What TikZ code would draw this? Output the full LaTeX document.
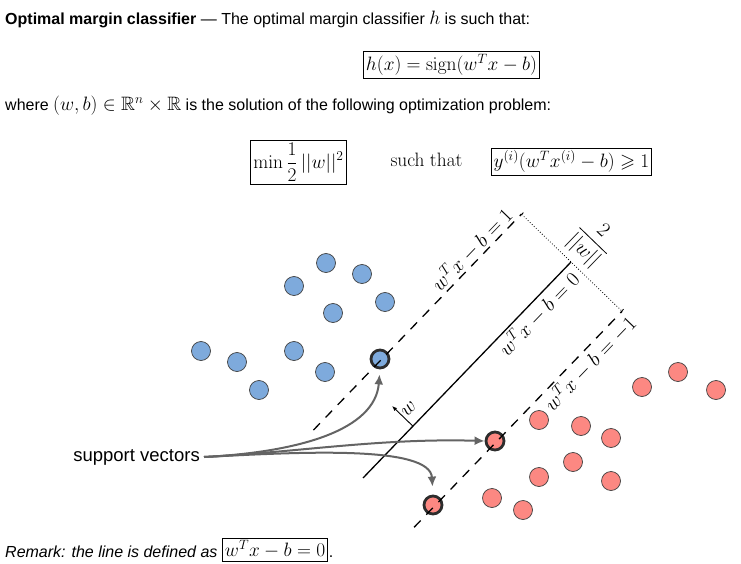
\RequirePackage{fix-cm}
\documentclass[tikz,border=0pt]{standalone}
\usepackage{amsmath,amssymb}
\usepackage[no-math]{fontspec}
\setmainfont{Liberation Sans}
\usetikzlibrary{arrows.meta,calc}

\definecolor{bluept}{RGB}{126,170,220}
\definecolor{redpt}{RGB}{252,136,130}
\definecolor{svgray}{RGB}{100,100,100}
\definecolor{ring}{RGB}{45,45,45}

\newcommand{\mth}[1]{{\fontsize{19.36}{23}\selectfont$#1$}}

\begin{document}
\begin{tikzpicture}[x=1pt,y=-1pt,
  txt/.style={inner sep=0pt, font=\fontsize{16}{19}\selectfont},
  mbox/.style={draw, line width=0.9pt, inner sep=2.5pt, font=\fontsize{19.36}{23}\selectfont},
  bpt/.style={circle, draw=black!75, line width=0.7pt, fill=bluept, minimum size=19pt, inner sep=0pt},
  rpt/.style={circle, draw=black!75, line width=0.7pt, fill=redpt, minimum size=19pt, inner sep=0pt},
  svb/.style={bpt, draw=ring, line width=2.8pt, minimum size=18pt},
  svr/.style={rpt, draw=ring, line width=2.8pt, minimum size=18pt},
  hyp/.style={line width=1.3pt, dash pattern=on 9.5pt off 8pt},
  lab/.style={font=\fontsize{20.5}{24}\selectfont, sloped},
  sv/.style={svgray, line width=2pt, -{Latex[length=10pt,width=9pt]}},
]
\useasboundingbox (0,0) rectangle (741,564);

% ---- header text
\node[txt, anchor=base west] (title) at (5,25)
  {\textbf{Optimal margin classifier} — The optimal margin classifier \mth{h} is such that:};
\node[mbox] (hbox) at (451.5,65) {$h(x)=\mathrm{sign}(w^Tx-b)$};
\node[txt, anchor=base west] (where) at (5,111)
  {where \mth{(w,b)\in\mathbb{R}^n\times\mathbb{R}} is the solution of the following optimization problem:};
\node[mbox] (minbox) at (298.5,162.5) {$\displaystyle\min\frac{1}{2}\,||w||^2$};
\node[inner sep=0pt, font=\fontsize{19.36}{23}\selectfont, anchor=base] (such) at (426.5,167) {$\mathrm{such\ that}$};
\node[mbox] (cbox) at (571.5,161.5) {$y^{(i)}(w^Tx^{(i)}-b)\geqslant1$};

% ---- points
\foreach \p in {(326,263),(362,274),(294,286),(385,302),(333,313),(201,351),(237,362),(294,351),(325,372),(259,390)}
  \node[bpt] at \p {};
\foreach \p in {(642,387),(678,372),(716,390),(539,420),(581,426),(611,438),(573,462),(539,477),(611,481),(492,498),(523,510)}
  \node[rpt] at \p {};
\node[svb] (sb) at (380,359) {};
\node[svr] (sr1) at (495,441) {};
\node[svr] (sr2) at (433,505) {};

% ---- hyperplanes
\coordinate (m1) at (363,478);
\coordinate (m2) at (571,262);
\coordinate (u1) at (313.4,430.1);
\coordinate (u2) at (521.4,214.1);
\coordinate (l1) at (414.1,527.3);
\coordinate (l2) at (622.1,311.3);

\draw[hyp] (u1) -- (u2) node[lab, pos=0.8, anchor=south, inner sep=1.5pt] {$w^Tx-b=1$};
\draw[line width=1.3pt] (m1) -- (m2) node[lab, pos=0.8, anchor=north, inner sep=2.5pt] {$w^Tx-b=0$};
\draw[hyp] (l1) -- (l2) node[lab, pos=0.8, anchor=north, inner sep=2.5pt] {$w^Tx-b=-1$};
\draw[line width=0.8pt, dotted, {Bar[width=5pt]}-{Bar[width=5pt]}] (u2) -- (l2)
  node[lab, midway, anchor=south, inner sep=6pt] {$\displaystyle\frac{2}{||w||}$};

% ---- normal vector
\coordinate (wb) at ($(m1)!0.24!(m2)$);
\coordinate (wt) at ($(wb)+(-20.8,-20.1)$);
\draw[line width=0.9pt, -{Latex[length=5pt,width=4pt]}] (wb) -- (wt);
\node[rotate=46, anchor=west, inner sep=2pt, font=\fontsize{20.5}{24}\selectfont] (wlab) at ($(wb)!0.5!(wt)$) {$w$};

% ---- support vectors annotation
\node[inner sep=0pt, anchor=east, font=\fontsize{18.5}{22}\selectfont] (svt) at (200,457) {support vectors};
\draw[sv] ([xshift=4pt]svt.east) .. controls (300,452) and (375,430) .. (sb.south) [shorten >=5pt];
\draw[sv] ([xshift=4pt]svt.east) .. controls (300,452) and (380,438) .. (sr1.west);
\draw[sv] ([xshift=4pt]svt.east) .. controls (300,452) and (430,445) .. (sr2.north) [shorten >=8pt];

% ---- remark
\node[txt, anchor=base west] (rem) at (5,557) {\itshape Remark: the line is defined as};
\node[draw, line width=0.9pt, inner sep=2.5pt, anchor=west, font=\fontsize{19.36}{23}\selectfont] (rbox) at (222,549.5) {$w^Tx-b=0$};
\node[txt, anchor=base west] (dot) at ([xshift=0.5pt]rbox.east |- rem.base) {.};
\end{tikzpicture}
\end{document}
